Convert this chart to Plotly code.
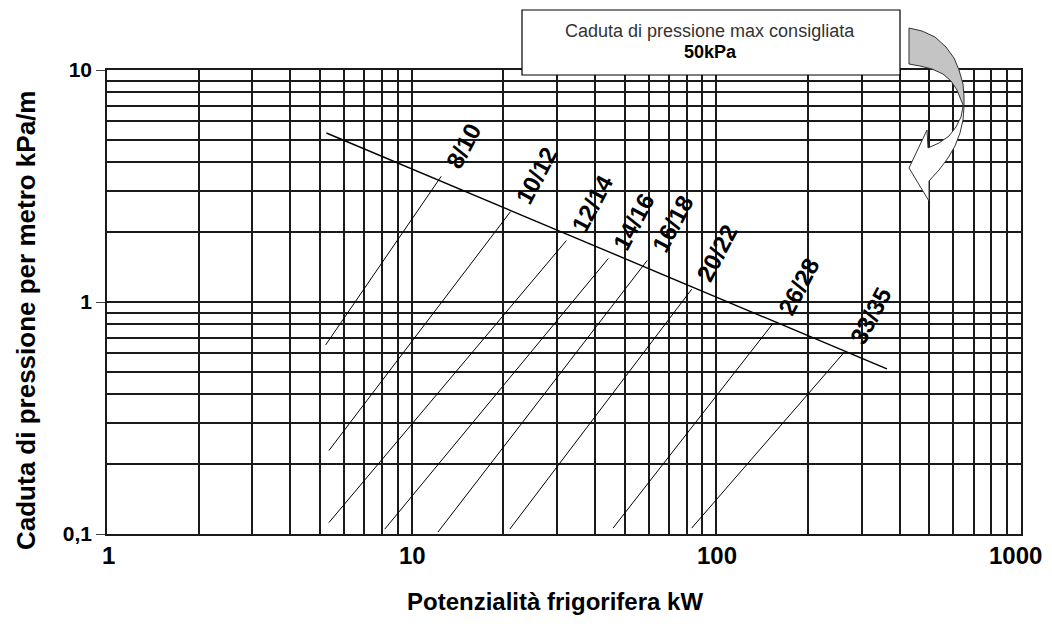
import math
import plotly.graph_objects as go

# ---- data ----
max_line_x = [5.25, 363.0]          # kW
max_line_y = [5.35, 0.515]          # kPa/m

pipe_labels = ["8/10", "10/12", "12/14", "14/16", "16/18", "20/22", "26/28", "33/35"]
pipe_x_start = [5.22, 5.35, 5.35, 8.16, 12.2, 21.0, 45.8, 83.0]
pipe_y_start = [0.653, 0.229, 0.112, 0.105, 0.102, 0.105, 0.106, 0.106]
pipe_x_end = [12.5, 21.1, 32.2, 44.2, 59.3, 83.0, 153.6, 264.0]
pipe_y_end = [3.48, 2.45, 1.84, 1.54, 1.51, 1.135, 0.81, 0.611]

x_tick_vals = [1, 10, 100, 1000]
x_tick_text = ["1", "10", "100", "1000"]

x_title = "Potenzialità frigorifera kW"
y_title = "Caduta di pressione per metro kPa/m"
box_line1 = "Caduta di pressione max consigliata"
box_line2 = "50kPa"

# ---- layout geometry (page has an 8px body margin) ----
OFF = 8
W, H = 1052 - OFF, 637 - 2 * OFF
ML, MT, MB = 99, 62, 95
PW = 914
MR = W - ML - PW
PH = H - MT - MB

def px(xp):
    # reference-image pixel x -> paper coordinate
    return (xp - OFF - ML) / PW

def py(yp):
    return (H - MB - (yp - OFF)) / PH

SANS = "Liberation Sans, Arial, sans-serif"
GRID = "#1a1a1a"

fig = go.Figure()

for xs, ys, xe, ye in zip(pipe_x_start, pipe_y_start, pipe_x_end, pipe_y_end):
    fig.add_trace(go.Scatter(x=[xs, xe], y=[ys, ye], mode="lines",
                             line=dict(color="black", width=1), hoverinfo="skip",
                             showlegend=False))

fig.add_trace(go.Scatter(x=max_line_x, y=max_line_y, mode="lines",
                         line=dict(color="black", width=1.4), hoverinfo="skip",
                         showlegend=False))

annotations = []
for lab, xe, ye in zip(pipe_labels, pipe_x_end, pipe_y_end):
    annotations.append(dict(x=math.log10(xe), y=math.log10(ye), xref="x", yref="y",
                            text=f"<b>{lab}</b>",
                            showarrow=False, textangle=-62, xanchor="left",
                            yanchor="bottom", xshift=-3, yshift=1,
                            font=dict(family=SANS, size=24, color="black")))

# x tick labels (the last one is pulled inside the page edge, as in the reference)
for i, (v, t) in enumerate(zip(x_tick_vals, x_tick_text)):
    annotations.append(dict(x=math.log10(v), y=0, xref="x", yref="paper",
                            xanchor="center", yanchor="top", yshift=-6,
                            xshift=(-6 if i == len(x_tick_vals) - 1 else 1),
                            text=f"<b>{t}</b>", showarrow=False,
                            font=dict(family=SANS, size=24, color="black")))

# callout box text
annotations.append(dict(x=px(710), y=py(31), xref="paper", yref="paper",
                        xanchor="center", yanchor="middle",
                        text=box_line1, showarrow=False,
                        font=dict(family=SANS, size=18, color="#333")))
annotations.append(dict(x=px(710), y=py(52), xref="paper", yref="paper",
                        xanchor="center", yanchor="middle",
                        text=f"<b>{box_line2}</b>", showarrow=False,
                        font=dict(family=SANS, size=18, color="black")))

# axis titles
annotations.append(dict(x=px(555), y=py(601), xref="paper", yref="paper",
                        xanchor="center", yanchor="middle",
                        text=f"<b>{x_title}</b>", showarrow=False,
                        font=dict(family=SANS, size=24, color="black")))
annotations.append(dict(x=px(26), y=py(321), xref="paper", yref="paper",
                        xanchor="center", yanchor="middle", textangle=-90,
                        text=f"<b>{y_title}</b>", showarrow=False,
                        font=dict(family=SANS, size=26, color="black")))

shapes = []
# callout box
shapes.append(dict(type="rect", xref="paper", yref="paper",
                   x0=px(522), x1=px(900), y0=py(75), y1=py(10),
                   fillcolor="white", line=dict(color="black", width=1.2),
                   layer="above"))

def path(points):
    return "M " + " L ".join(f"{px(a):.5f},{py(b):.5f}" for a, b in points) + " Z"

gray_pts = [(909, 28), (922, 31), (935, 37), (946, 47), (954, 58), (959, 70),
            (963, 84), (964, 96), (964, 107),
            (961, 100), (957, 90), (951, 81), (943, 74), (932, 69), (920, 66), (909, 64)]
white_pts = [(964, 107), (963, 120), (960, 133), (955, 146), (948, 158),
             (939, 170), (929, 181),
             (929, 201), (909, 168), (927, 130), (928, 148),
             (939, 143), (949, 136), (956, 127), (961, 117), (963, 107)]
shapes.append(dict(type="path", xref="paper", yref="paper", path=path(gray_pts),
                   fillcolor="#c4c4c4", line=dict(color="#333", width=1), layer="above"))
shapes.append(dict(type="path", xref="paper", yref="paper", path=path(white_pts),
                   fillcolor="white", line=dict(color="#333", width=1), layer="above"))

fig.update_layout(
    width=W, height=H,
    margin=dict(l=ML, r=MR, t=MT, b=MB),
    paper_bgcolor="white", plot_bgcolor="white",
    separators=",.",
    showlegend=False,
    annotations=annotations,
    shapes=shapes,
    xaxis=dict(type="log", range=[0, 3], dtick=1,
               showgrid=True, gridcolor=GRID, gridwidth=1.6,
               minor=dict(dtick="D1", showgrid=True, gridcolor=GRID, gridwidth=1.6, ticks=""),
               showline=True, linecolor=GRID, linewidth=1.6, mirror=True,
               ticks="", showticklabels=False,
               automargin=False, zeroline=False),
    yaxis=dict(type="log", range=[-1, 1], dtick=1,
               showgrid=True, gridcolor=GRID, gridwidth=1.6,
               minor=dict(dtick="D1", showgrid=True, gridcolor=GRID, gridwidth=1.6, ticks=""),
               showline=True, linecolor=GRID, linewidth=1.6, mirror=True,
               ticks="outside", ticklen=9, tickcolor="#444", tickwidth=1,
               ticklabeloverflow="allow",
               tickfont=dict(family=SANS, size=21, color="black", weight="bold"),
               automargin=False, zeroline=False),
)

fig.write_html("out.html")
